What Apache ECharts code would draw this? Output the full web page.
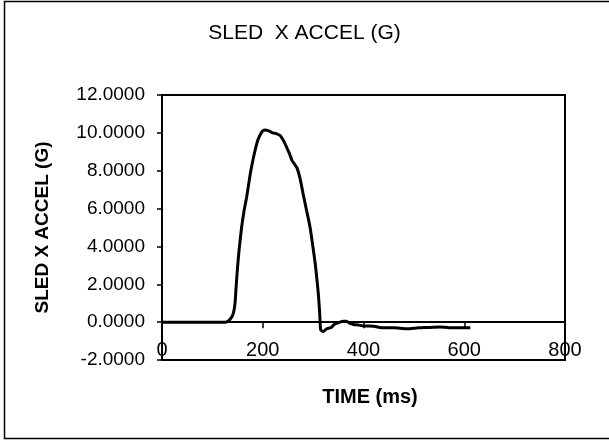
<!DOCTYPE html>
<html>
<head>
<meta charset="utf-8">
<script src="https://cdn.jsdelivr.net/npm/echarts@6/dist/echarts.min.js"></script>
<style>
html,body{margin:0;padding:0;background:#fff;}
#chart{width:609px;height:440px;}
</style>
</head>
<body>
<div id="chart"></div>
<script>
const titleText = 'SLED  X ACCEL (G)';
const yAxisName = 'SLED X ACCEL (G)';
const xAxisName = 'TIME (ms)';
const xTicks = [0, 200, 400, 600, 800];
const yTicks = [-2, 0, 2, 4, 6, 8, 10, 12];
const timeMs = [0, 50, 100, 125, 131, 138, 142, 145, 147, 150, 153, 158, 163, 168, 175, 180, 185, 190, 195, 200, 205, 212, 220, 228, 235, 242, 248, 253, 258, 263, 268, 274, 280, 287, 294, 300, 305, 310, 313, 315, 320, 327, 335, 343, 353, 360, 366, 372, 380, 390, 400, 420, 440, 460, 485, 510, 530, 551, 570, 590, 612];
const accelG = [0, 0, 0, 0, 0.05, 0.25, 0.5, 1.0, 1.8, 2.9, 3.8, 5.0, 5.9, 6.6, 7.8, 8.5, 9.1, 9.6, 9.9, 10.1, 10.15, 10.1, 10.0, 9.95, 9.85, 9.55, 9.2, 8.9, 8.55, 8.35, 8.15, 7.6, 6.8, 5.9, 5.0, 3.9, 2.9, 1.6, 0.5, -0.4, -0.5, -0.35, -0.3, -0.1, 0.0, 0.05, 0.05, -0.05, -0.12, -0.15, -0.2, -0.22, -0.3, -0.3, -0.35, -0.3, -0.28, -0.25, -0.3, -0.3, -0.3];

const FONT = "'Liberation Sans', Arial, Helvetica, sans-serif";
const chart = echarts.init(document.getElementById('chart'), null, {renderer: 'canvas'});
const xMin = xTicks[0], xMax = xTicks[xTicks.length - 1];
const yMin = yTicks[0], yMax = yTicks[yTicks.length - 1];

chart.setOption({
  animation: false,
  backgroundColor: '#fff',
  title: {
    text: titleText,
    left: 'center',
    top: 18,
    textStyle: {fontFamily: FONT, fontSize: 21, fontWeight: 'normal', color: '#000'}
  },
  graphic: [{
    type: 'rect',
    shape: {x: 4.5, y: 1.5, width: 610, height: 437},
    style: {fill: 'none', stroke: '#000', lineWidth: 1.5},
    silent: true
  }],
  grid: {
    left: 162, top: 95, width: 403, height: 265,
    show: true, borderColor: '#000', borderWidth: 2, backgroundColor: 'transparent',
    containLabel: false
  },
  xAxis: {
    type: 'value',
    min: xMin, max: xMax, interval: 200,
    axisLine: {show: true, onZero: true, lineStyle: {color: '#000', width: 2}},
    axisTick: {show: true, inside: false, length: 6, lineStyle: {color: '#000', width: 1.5}},
    axisLabel: {margin: 0, verticalAlign: 'bottom', fontFamily: FONT, fontSize: 20, color: '#000'},
    splitLine: {show: false},
    name: xAxisName,
    nameLocation: 'middle',
    nameGap: 27,
    nameTextStyle: {fontFamily: FONT, fontSize: 20, fontWeight: 'bold', color: '#000', padding: [0, 0, 0, 13]}
  },
  yAxis: {
    type: 'value',
    min: yMin, max: yMax, interval: 2,
    axisLine: {show: true, onZero: false, lineStyle: {color: '#000', width: 2}},
    axisTick: {show: true, inside: false, length: 5, lineStyle: {color: '#000', width: 1.5}},
    axisLabel: {margin: 17, fontFamily: FONT, fontSize: 19, color: '#000', formatter: v => v.toFixed(4)},
    splitLine: {show: false},
    name: yAxisName,
    nameLocation: 'middle',
    nameRotate: 90,
    nameGap: 110,
    nameTextStyle: {fontFamily: FONT, fontSize: 19, fontWeight: 'bold', color: '#000'}
  },
  series: [{
    type: 'line',
    data: timeMs.map((t, i) => [t, accelG[i]]),
    showSymbol: false,
    smooth: 0.2,
    lineStyle: {color: '#000', width: 3},
    z: 3
  }]
});
</script>
</body>
</html>
